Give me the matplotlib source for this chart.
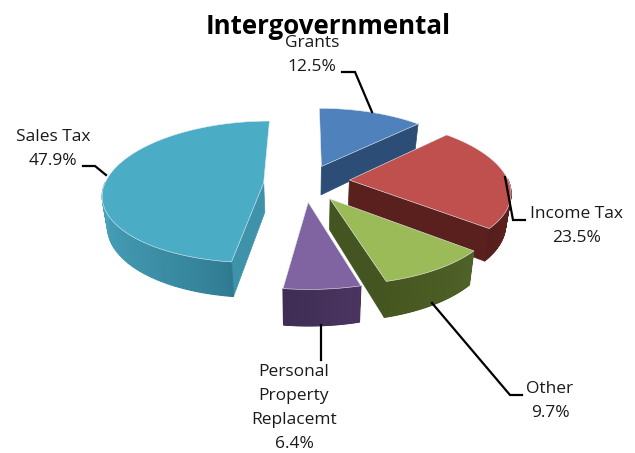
import numpy as np
import matplotlib
matplotlib.use("Agg")
import matplotlib.pyplot as plt
from matplotlib.colors import to_rgb

title = "Intergovernmental"
categories = ["Grants", "Income Tax", "Other", "Personal Property Replacemt", "Sales Tax"]
values = [12.5, 23.5, 9.7, 6.4, 47.9]

top_colors = ["#4F81BD", "#C0504D", "#9BBB59", "#8064A2", "#4BACC6"]
wall_light = ["#2C4D75", "#632523", "#4F6228", "#4A3560", "#4BA6BF"]
wall_dark = ["#2C4D75", "#561E1C", "#46561F", "#3F2D55", "#2E7A90"]
face_colors = ["#2C4D75", "#5A201E", "#445522", "#403152", "#3E93AB"]

# which radial faces can be seen from the front: 0 start edge, 1 end edge
visible_faces = [[1], [1], [1], [], [0]]
draw_order = [4, 0, 1, 2, 3]

# projection of the tilted disc
cx, cy = 305, 184
rx, ry = 159, 70
persp_x, persp_y = 0.15, 0.13
depth = 29.5
taper = 0.026
explode = 0.28
# small per-slice nudges in pixels
shift_x = [0, 0, 0, 0, 3]
shift_y = [0, -3, -2, -2, 0]

plt.rcParams["font.family"] = ["Open Sans", "DejaVu Sans"]


def project(x, y, z=0.0, dx=0.0, dy=0.0):
    sx = 1 / (1 - persp_x * y)
    sy = 1 / (1 - persp_y * y)
    # walls narrow slightly towards the bottom
    return cx + rx * x * sx * (1 - taper * z) + dx, cy + ry * y * sy + depth * z * sx + dy


def unit(a):
    # angles run clockwise from twelve o'clock, y points at the viewer
    return np.sin(a), -np.cos(a)


def mix(c1, c2, f):
    c1, c2 = np.array(to_rgb(c1)), np.array(to_rgb(c2))
    return tuple(c1 + (c2 - c1) * f)


fig = plt.figure(figsize=(6.35, 4.53), dpi=100)
ax = fig.add_axes([0, 0, 1, 1])
ax.set_xlim(0, 635)
ax.set_ylim(453, 0)
ax.axis("off")

edges = np.concatenate([[0], np.cumsum(values)]) / np.sum(values) * 2 * np.pi

for layer, i in enumerate(draw_order):
    a0, a1 = edges[i], edges[i + 1]
    mid = (a0 + a1) / 2
    ox, oy = explode * unit(mid)[0], explode * unit(mid)[1]
    arc = np.linspace(a0, a1, 120)
    ux, uy = unit(arc)
    dx, dy = shift_x[i], shift_y[i]
    z = layer + 1

    # radial cut faces
    for k in visible_faces[i]:
        ex, ey = unit([a0, a1][k])
        pts = [project(ox, oy, 0, dx, dy), project(ox + ex, oy + ey, 0, dx, dy),
               project(ox + ex, oy + ey, 1, dx, dy), project(ox, oy, 1, dx, dy)]
        ax.fill(*zip(*pts), color=face_colors[i], lw=0.5, zorder=z)

    # outer wall, only the part turned towards the viewer, in thin shaded strips
    front = np.where(uy > -0.02)[0]
    for n, j in enumerate(front[:-1]):
        x0, y0 = ox + ux[j], oy + uy[j]
        x1, y1 = ox + ux[j + 1], oy + uy[j + 1]
        pts = [project(x0, y0, 0, dx, dy), project(x1, y1, 0, dx, dy),
               project(x1, y1, 1, dx, dy), project(x0, y0, 1, dx, dy)]
        f = n / max(len(front) - 2, 1)
        if i == 4:
            c = mix(wall_dark[i], wall_light[i], f ** 0.7)
        else:
            c = mix(wall_light[i], wall_dark[i], f)
        ax.fill(*zip(*pts), color=c, lw=0.8, zorder=z)

    # top surface
    px, py = project(np.r_[ox, ox + ux], np.r_[oy, oy + uy], 0, dx, dy)
    ax.fill(px, py, facecolor=top_colors[i], edgecolor="#E8EEF2", lw=0.4, zorder=z)

# leader lines
leaders = [
    ([342, 355, 372], [72, 72, 112]),
    ([505, 513, 525], [177, 220, 220]),
    ([432, 510, 522], [303, 395, 395]),
    ([321, 321], [325, 360]),
    ([83, 95, 106], [166, 166, 175]),
]
for lx, ly in leaders:
    ax.plot(lx, ly, color="black", lw=1.6, solid_joinstyle="miter", zorder=10)

# data labels, one line of text at a time
labels = [
    (312, 43, ["Grants", "12.5%"]),
    (577, 214, ["Income Tax", "23.5%"]),
    (550, 389, ["Other", "9.7%"]),
    (294, 372, ["Personal", "Property", "Replacemt", "6.4%"]),
    (53, 137, ["Sales Tax", "47.9%"]),
]
for lx, ly, lines in labels:
    for n, line in enumerate(lines):
        ax.text(lx, ly + 24 * n, line, ha="center", va="center", fontsize=12.5,
                color="#1A1A1A", zorder=11)

ax.text(328, 26, title, ha="center", va="center", fontsize=18.6, fontweight="bold",
        color="black", zorder=11)

fig.savefig("out.png", dpi=100)
